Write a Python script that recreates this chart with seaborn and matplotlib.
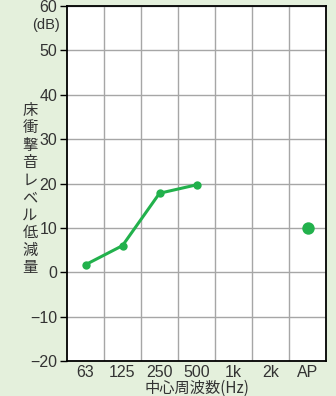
import matplotlib
matplotlib.use("Agg")
import matplotlib.pyplot as plt
import seaborn as sns
import pandas as pd

# Band labels and floor impact sound level reduction (dB)
bands = ["63", "125", "250", "500", "1k", "2k", "AP"]
band_values = [1.7, 6.0, 17.8, 19.7]      # 63, 125, 250, 500 Hz
ap_value = 10.0

GREEN = "#22b14c"
BG = "#e4f0dc"
TXT = "#333333"

sns.set_theme(style="white")
plt.rcParams["font.family"] = ["Liberation Sans Narrow", "Liberation Sans", "Noto Sans CJK JP", "DejaVu Sans"]

fig = plt.figure(figsize=(3.36, 3.96), dpi=100, facecolor=BG)
ax = fig.add_axes([67 / 336, 35 / 396, 259 / 336, 355 / 396])
ax.set_facecolor("white")

line_df = pd.DataFrame({"x": list(range(len(band_values))), "y": band_values})
ap_df = pd.DataFrame({"x": [bands.index("AP")], "y": [ap_value]})

sns.lineplot(data=line_df, x="x", y="y", ax=ax, color=GREEN, linewidth=2.2,
             marker="o", markersize=6, markeredgewidth=0, zorder=3)
sns.scatterplot(data=ap_df, x="x", y="y", ax=ax, color=GREEN, s=80,
                linewidth=0, zorder=3)

ax.set_xlim(-0.5, len(bands) - 0.5)
ax.set_ylim(-20, 60)

# category labels at centres, grid lines at band boundaries
ax.set_xticks(range(len(bands)))
ax.set_xticklabels(bands)
ax.set_xticks([i + 0.5 for i in range(len(bands) - 1)], minor=True)
ax.set_yticks(range(-20, 61, 10))
ax.set_yticklabels(["\u221220", "\u221210", "0", "10", "20", "30", "40", "50", "60"])

ax.grid(False)
ax.grid(which="minor", axis="x", color="#a6a6a6", linewidth=1.0)
ax.grid(which="major", axis="y", color="#a6a6a6", linewidth=1.0)
ax.set_axisbelow(True)

ax.tick_params(axis="y", which="major", direction="out", length=5, width=1.0,
               color="black", left=True, labelsize=11.5, pad=2, labelcolor=TXT)
ax.tick_params(axis="x", which="both", length=0, labelsize=11.5, pad=3, labelcolor=TXT)

for side in ["left", "bottom", "right", "top"]:
    ax.spines[side].set_color("black")
    ax.spines[side].set_linewidth(1.3)

ax.set_xlabel("")
ax.set_ylabel("")

# unit above the y axis, below the top tick label
fig.text(60 / 336, 1 - 25 / 396, "(dB)", ha="right", va="center",
         fontsize=10.5, color=TXT)

# vertical stacked y label
ylabel_chars = "床衝撃音レベル低減量"
fig.text(30 / 336, 1 - 189 / 396, "\n".join(ylabel_chars), ha="center", va="center",
         fontsize=11, color=TXT, linespacing=1.04,
         family=["Noto Sans CJK JP", "DejaVu Sans"])

fig.text(197 / 336, 1 - 388 / 396, "中心周波数(Hz)", ha="center", va="center",
         fontsize=11, color=TXT, family=["Noto Sans CJK JP", "DejaVu Sans"])

fig.savefig("out.png", dpi=100, facecolor=BG)
